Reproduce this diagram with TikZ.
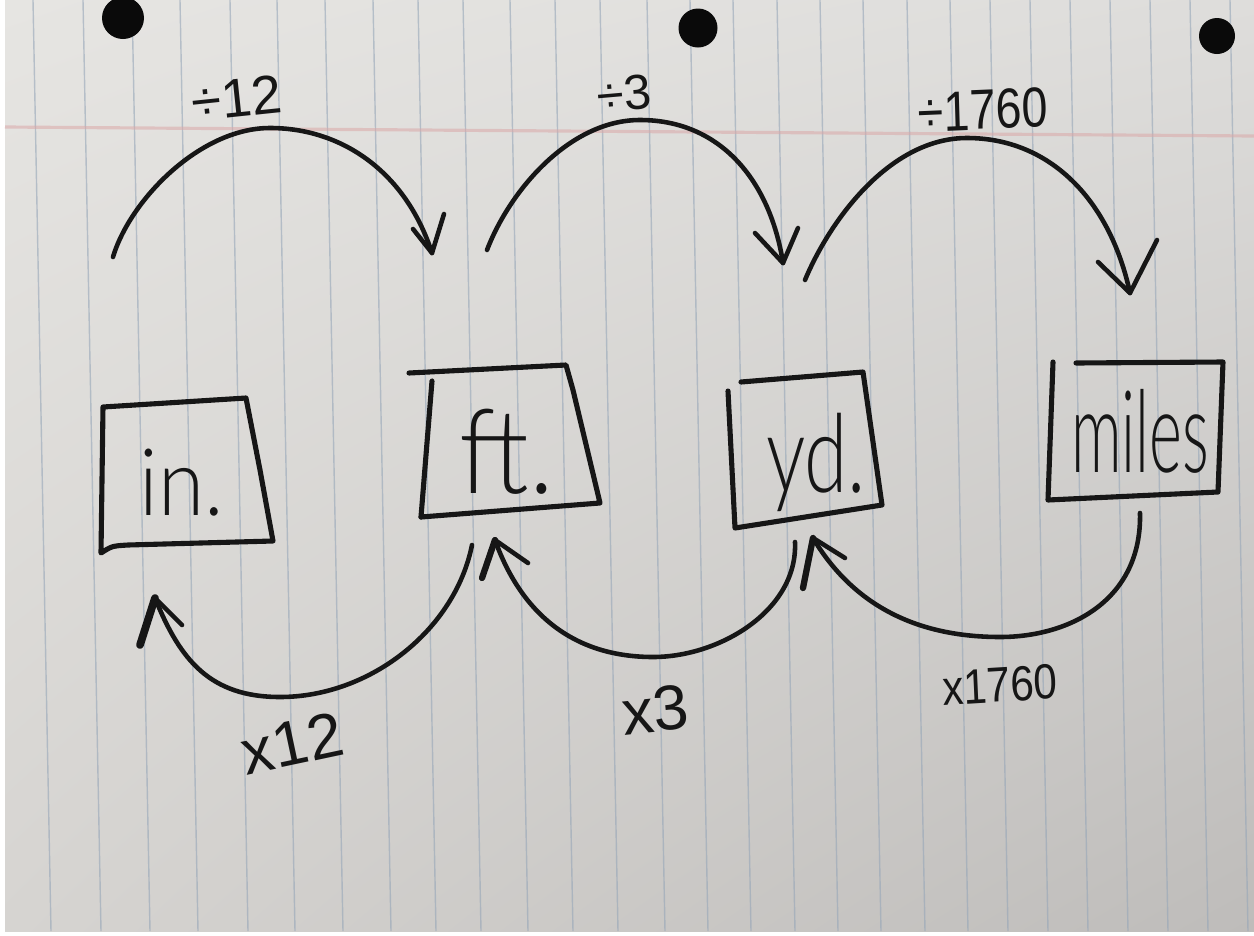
\documentclass[tikz,border=0pt]{standalone}
\usepackage{fontspec}
\usetikzlibrary{shadings}
\setmainfont{Liberation Sans}
\IfFontExistsTF{Lato Light}{\newfontfamily\hand{Lato Light}}{\newfontfamily\hand{Liberation Sans}}
\definecolor{inkc}{RGB}{22,22,22}
\definecolor{rulec}{RGB}{150,166,184}
\definecolor{marginc}{RGB}{218,168,168}
\definecolor{paperTL}{RGB}{230,229,226}
\definecolor{paperTR}{RGB}{222,221,219}
\definecolor{paperBL}{RGB}{214,212,209}
\definecolor{paperBR}{RGB}{190,188,186}
\definecolor{holec}{RGB}{10,10,10}
\begin{document}
\begin{tikzpicture}[x=0.01cm,y=-0.01cm,
  ink/.style={draw=inkc, line width=1.3pt, line cap=round, line join=round},
  boxline/.style={ink, line width=1.45pt},
  unit/.style={inner sep=0pt, anchor=base, text=inkc},
  lbl/.style={inner sep=0pt, text=inkc}]
\useasboundingbox (0,0) rectangle (1254,936);
% sheet of ruled paper
\fill[white] (0,0) rectangle (1254,936);
\shade[upper left=paperTL, upper right=paperTR, lower left=paperBL, lower right=paperBR]
  (5,0) rectangle (1254,931);
\foreach \t in {33,83,132,180,230,277,325,373,418,463,510,555,600,647,690,733,777,820,863,907,950,990,1030,1070,1110,1150,1190,1230}
  \draw[rulec, line width=0.4pt, opacity=0.6] (\t,0) -- (\t+18,931);
\draw[marginc, line width=0.9pt, opacity=0.55] (5,127) -- (1254,136);
% punched holes
\fill[holec] (123,18) circle (21);
\fill[holec] (698,28) circle (19.5);
\fill[holec] (1217,36) circle (18);

% unit boxes
\draw[boxline] (103,407) -- (246,398) -- (260,470) -- (273,541) -- (128,545) .. controls (112,546) .. (101,553) -- cycle;
\node[unit, font=\hand\fontsize{26.5}{26.5}\selectfont, xscale=0.9] (in) at (182,515) {in.};

\draw[boxline] (409,373) -- (566,365) -- (573,390) -- (600,503) -- (421,517);
\draw[boxline] (432,381) -- (421,517);
\node[unit, font=\hand\fontsize{33.5}{33.5}\selectfont, xscale=0.9] (ft) at (507,493) {ft.};

\draw[boxline] (741,382) -- (863,372) -- (882,505) -- (735,528) -- (728,391);
\node[unit, font=\hand\fontsize{31}{31}\selectfont, xscale=0.72] (yd) at (816,492) {yd.};

\draw[boxline] (1076,363) -- (1223,362) -- (1218,492) -- (1048,500) -- (1053,362);
\node[unit, font=\hand\fontsize{32.5}{32.5}\selectfont, xscale=0.55] (mi) at (1140,472) {miles};

% ends of the conversion arrows
\coordinate (d12s) at (113,257);  \coordinate (d12p) at (270,128);  \coordinate (d12t) at (432,253);
\coordinate (d3s)  at (487,250);  \coordinate (d3p)  at (640,120);  \coordinate (d3t)  at (783,263);
\coordinate (dmis) at (805,280);  \coordinate (dmip) at (967,138);  \coordinate (dmit) at (1130,293);
\coordinate (m12s) at (472,545);  \coordinate (m12p) at (280,697);  \coordinate (m12t) at (155,598);
\coordinate (m3s)  at (795,542);  \coordinate (m3p)  at (653,657);  \coordinate (m3t)  at (495,540);
\coordinate (mmis) at (1140,513); \coordinate (mmip) at (1000,637); \coordinate (mmit) at (813,538);

% dividing: left to right over the top
\draw[ink] (d12s) .. controls (130,200) and (200,128) .. (d12p) .. controls (340,128) and (405,170) .. (d12t);
\draw[ink] (d12t) -- +(12,-39) (d12t) -- +(-19,-24);
\node[lbl, font=\fontsize{15.5}{15.5}\selectfont, rotate=6] (l1) at (237,98) {÷12};

\draw[ink] (d3s) .. controls (510,190) and (570,120) .. (d3p) .. controls (720,120) and (770,180) .. (d3t);
\draw[ink] (d3t) -- +(15,-35) (d3t) -- +(-28,-30);
\node[lbl, font=\fontsize{14}{14}\selectfont, rotate=5] (l2) at (624,94) {÷3};

\draw[ink] (dmis) .. controls (830,220) and (890,138) .. (dmip) .. controls (1050,138) and (1110,200) .. (dmit);
\draw[ink] (dmit) -- +(27,-53) (dmit) -- +(-32,-31);
\node[lbl, font=\fontsize{16}{16}\selectfont, xscale=0.83, rotate=2] (l3) at (983,110) {÷1760};

% multiplying: right to left underneath
\draw[ink] (m12s) .. controls (455,630) and (370,697) .. (m12p) .. controls (210,697) and (180,660) .. (m12t);
\draw[ink, line width=2.2pt] (m12t) -- +(-15,47);
\draw[ink] (m12t) -- +(27,27);
\node[lbl, font=\fontsize{18}{18}\selectfont, rotate=12] (l4) at (292,743) {x12};

\draw[ink] (m3s) .. controls (798,610) and (720,657) .. (m3p) .. controls (570,657) and (520,610) .. (m3t);
\draw[ink, line width=1.8pt] (m3t) -- +(-13,38);
\draw[ink] (m3t) -- +(33,23);
\node[lbl, font=\fontsize{18}{18}\selectfont, rotate=6] (l5) at (655,710) {x3};

\draw[ink] (mmis) .. controls (1142,600) and (1070,637) .. (mmip) .. controls (910,637) and (850,600) .. (mmit);
\draw[ink, line width=1.8pt] (mmit) -- +(-10,50);
\draw[ink] (mmit) -- +(32,20);
\node[lbl, font=\fontsize{14}{14}\selectfont, xscale=0.86, rotate=3] (l6) at (1000,685) {x1760};
\end{tikzpicture}
\end{document}
